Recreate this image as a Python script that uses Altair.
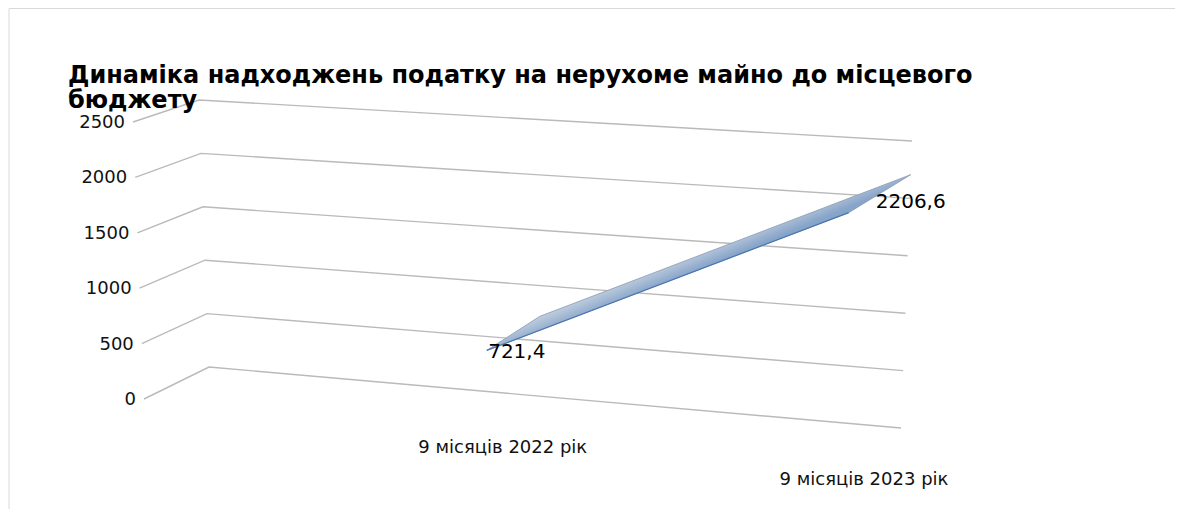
import altair as alt
import numpy as np
import pandas as pd

# ---------------- data ----------------
categories = ["9 місяців 2022 рік", "9 місяців 2023 рік"]
values = [721.4, 2206.6]
value_labels = ["721,4", "2206,6"]
ticks = [0, 500, 1000, 1500, 2000, 2500]
tick_labels = ["0", "500", "1000", "1500", "2000", "2500"]
title_lines = ["Динаміка надходжень податку на нерухоме майно до місцевого", "бюджету"]

# ---------------- layout of the 3-D projection (page pixels) ----------------
VMAX = 2500
BACK_L0, BACK_L1 = (209, 367), (199, 100)   # back wall, left edge (v=0, v=max)
BACK_R0, BACK_R1 = (901, 428), (912, 141)   # back wall, right edge
FRONT_L0, FRONT_L1 = (144, 399), (133, 122)  # side wall, front edge
FLOOR_DEPTH = (-65, 32)
CAT_T = [0.478, 1.0]
RIBBON_DEPTH = [(-53, 34), (-62, 38)]
CAT_LABEL_OFF = (28, 20)
VAL_LABEL_OFF = [(-23, 36), (0, 27)]
TITLE_X, TITLE_Y, TITLE_LH = 68, 83, 25

FONT = "DejaVu Sans"
W, H = 1167, 501
X_DOMAIN = [8, 8 + W]
Y_DOMAIN = [8, 8 + H]


def lerp(a, b, f):
    return (a[0] + (b[0] - a[0]) * f, a[1] + (b[1] - a[1]) * f)


def back(t, v):
    f = v / VMAX
    return lerp(lerp(BACK_L0, BACK_L1, f), lerp(BACK_R0, BACK_R1, f), t)


def front_left(v):
    return lerp(FRONT_L0, FRONT_L1, v / VMAX)


def X(field):
    return alt.X(f"{field}:Q", scale=alt.Scale(domain=X_DOMAIN, nice=False, zero=False), axis=None)


def Y(field):
    return alt.Y(f"{field}:Q", scale=alt.Scale(domain=Y_DOMAIN, nice=False, zero=False, reverse=True), axis=None)


# ---------------- gridlines (side wall + back wall) ----------------
rows = []
for v in ticks:
    for s, p in enumerate([front_left(v), back(0, v), back(1, v)]):
        rows.append({"tick": v, "seq": s, "x": p[0], "y": p[1]})
grid_df = pd.DataFrame(rows)

grid = alt.Chart(grid_df).mark_line(color="#bababa", strokeWidth=1.4).encode(
    x=X("x"), y=Y("y"), detail="tick:N", order="seq:Q"
)

tick_df = pd.DataFrame({
    "label": tick_labels,
    "x": [front_left(v)[0] - 8 for v in ticks],
    "y": [front_left(v)[1] + 1 for v in ticks],
})
tick_text = alt.Chart(tick_df).mark_text(
    align="right", baseline="middle", font=FONT, fontSize=18, color="#111111"
).encode(x=X("x"), y=Y("y"), text="label:N")

# ---------------- category labels ----------------
cat_pts = [back(t, 0) for t in CAT_T]
cat_df = pd.DataFrame({
    "label": categories,
    "x": [p[0] + FLOOR_DEPTH[0] + CAT_LABEL_OFF[0] for p in cat_pts],
    "y": [p[1] + FLOOR_DEPTH[1] + CAT_LABEL_OFF[1] for p in cat_pts],
})
cat_text = alt.Chart(cat_df).mark_text(
    align="center", baseline="middle", font=FONT, fontSize=18, color="#111111"
).encode(x=X("x"), y=Y("y"), text="label:N")

# ---------------- 3-D ribbon of the series ----------------
B = [back(t, v) for t, v in zip(CAT_T, values)]
F = [(b[0] + d[0], b[1] + d[1]) for b, d in zip(B, RIBBON_DEPTH)]
top_x = [F[0][0], B[0][0], B[1][0]]
top_y = [F[0][1], B[0][1], B[1][1]]
bot_x = [F[0][0], F[1][0], B[1][0]]
bot_y = [F[0][1], F[1][1], B[1][1]]
xs = sorted(set(top_x + bot_x))
rib_df = pd.DataFrame({
    "x": xs,
    "top": np.interp(xs, top_x, top_y),
    "bot": np.interp(xs, bot_x, bot_y),
})
ribbon = alt.Chart(rib_df).mark_area(
    interpolate="linear",
    color=alt.Gradient(
        gradient="linear",
        stops=[
            alt.GradientStop(color="#dfe7f1", offset=0.0),
            alt.GradientStop(color="#bccbdd", offset=0.47),
            alt.GradientStop(color="#87a4c9", offset=0.52),
            alt.GradientStop(color="#4f78b0", offset=1.0),
        ],
        x1=0, y1=0, x2=1, y2=1,
    ),
).encode(x=X("x"), y=Y("top"), y2=alt.Y2("bot"))

outline_pts = [F[0], B[0], B[1], F[1], F[0]]
outline_df = pd.DataFrame({
    "seq": list(range(len(outline_pts))),
    "x": [p[0] for p in outline_pts],
    "y": [p[1] for p in outline_pts],
})
outline = alt.Chart(outline_df).mark_line(color="#8a9bb3", strokeWidth=0.8).encode(
    x=X("x"), y=Y("y"), order="seq:Q"
)
front_df = pd.DataFrame({"seq": [0, 1], "x": [F[0][0], F[1][0]], "y": [F[0][1], F[1][1]]})
front_edge = alt.Chart(front_df).mark_line(color="#4a76b2", strokeWidth=1.2).encode(
    x=X("x"), y=Y("y"), order="seq:Q"
)

val_df = pd.DataFrame({
    "label": value_labels,
    "x": [b[0] + o[0] for b, o in zip(B, VAL_LABEL_OFF)],
    "y": [b[1] + o[1] for b, o in zip(B, VAL_LABEL_OFF)],
})
val_text = alt.Chart(val_df).mark_text(
    align="center", baseline="middle", font=FONT, fontSize=20, color="#000000"
).encode(x=X("x"), y=Y("y"), text="label:N")

# ---------------- title ----------------
title_df = pd.DataFrame({
    "label": title_lines,
    "x": [TITLE_X] * len(title_lines),
    "y": [TITLE_Y + i * TITLE_LH for i in range(len(title_lines))],
})
title = alt.Chart(title_df).mark_text(
    align="left", baseline="alphabetic", font=FONT, fontSize=24, fontWeight="bold", color="#000000"
).encode(x=X("x"), y=Y("y"), text="label:N")

# ---------------- chart-area border (left and top) ----------------
border_df = pd.DataFrame({
    "x": [9, 9], "y": [8.5, 8.5], "x2": [9, 8 + W], "y2": [8 + H, 8.5]
})
border = alt.Chart(border_df).mark_rule(color="#d9d9d9", strokeWidth=1).encode(
    x=X("x"), y=Y("y"), x2="x2:Q", y2="y2:Q"
)

chart = alt.layer(
    border, grid, tick_text, cat_text, ribbon, outline, front_edge, val_text, title
).properties(
    width=W, height=H, autosize=alt.AutoSizeParams(type="none"), padding=0
).configure_view(stroke=None)

chart.save("out.html", embed_options={"renderer": "svg", "actions": False})
